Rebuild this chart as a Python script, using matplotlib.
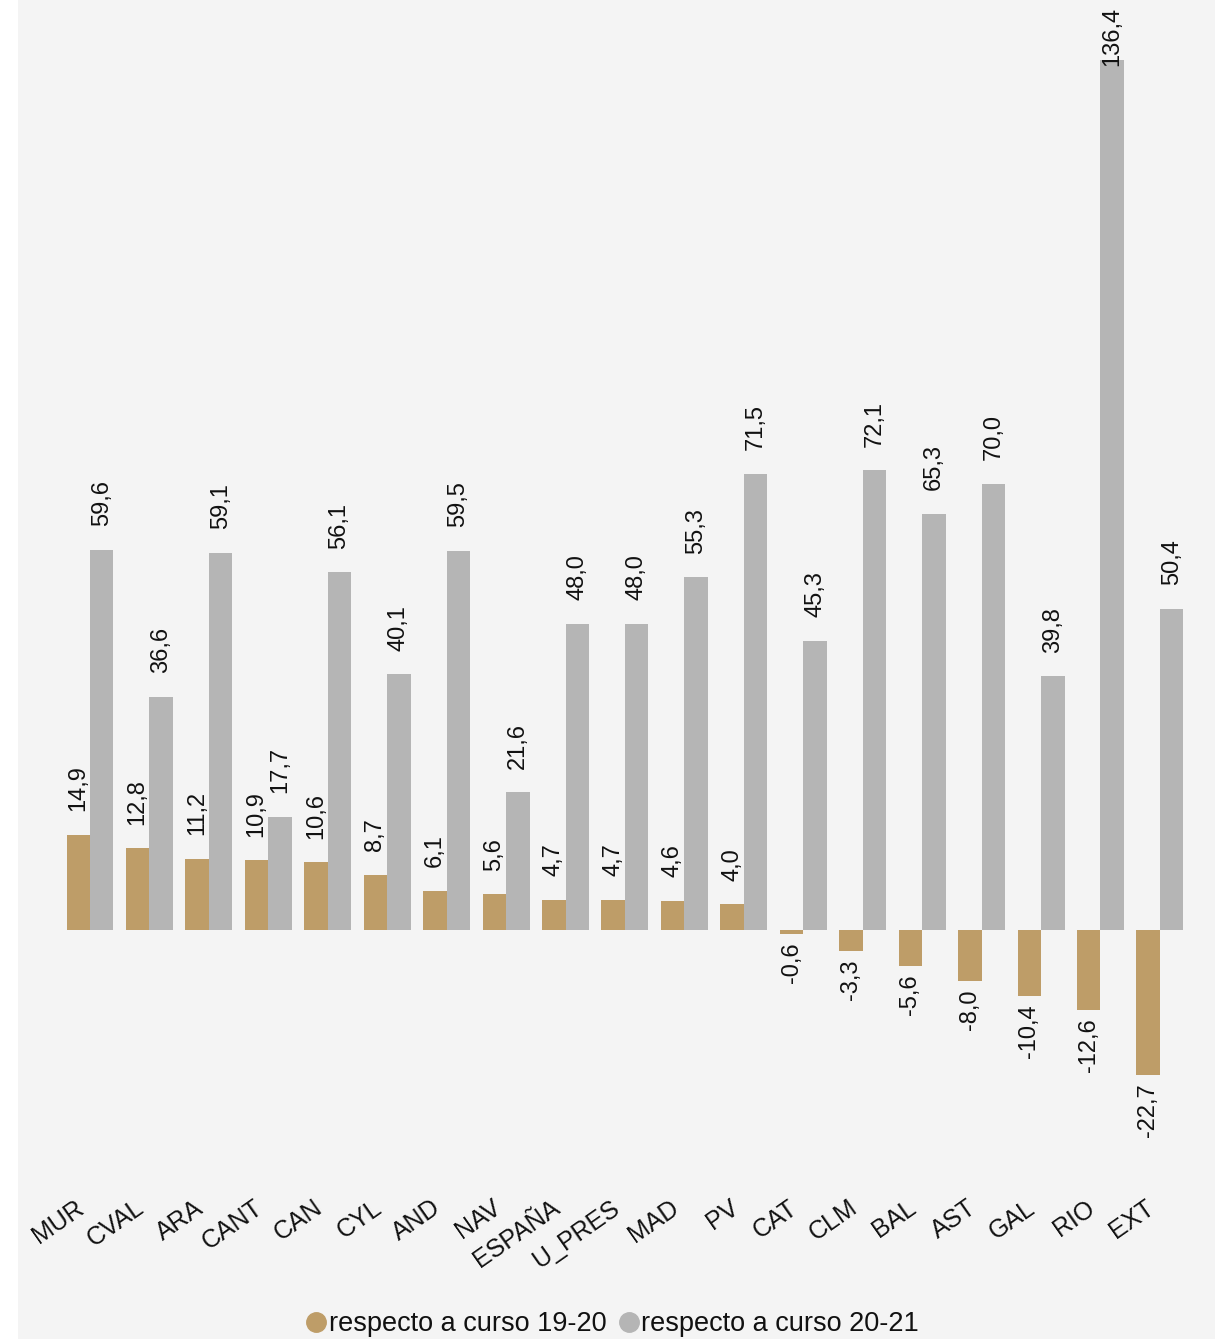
import matplotlib
matplotlib.use("Agg")
import matplotlib.pyplot as plt
from matplotlib.patches import Rectangle
from matplotlib.lines import Line2D
from matplotlib.transforms import ScaledTranslation
import numpy as np

# data
regiones = ["MUR", "CVAL", "ARA", "CANT", "CAN", "CYL", "AND", "NAV", "ESPAÑA", "U_PRES",
            "MAD", "PV", "CAT", "CLM", "BAL", "AST", "GAL", "RIO", "EXT"]
var_19_20 = [14.9, 12.8, 11.2, 10.9, 10.6, 8.7, 6.1, 5.6, 4.7, 4.7,
             4.6, 4.0, -0.6, -3.3, -5.6, -8.0, -10.4, -12.6, -22.7]
var_20_21 = [59.6, 36.6, 59.1, 17.7, 56.1, 40.1, 59.5, 21.6, 48.0, 48.0,
             55.3, 71.5, 45.3, 72.1, 65.3, 70.0, 39.8, 136.4, 50.4]
series_names = ["respecto a curso 19-20", "respecto a curso 20-21"]

gold = "#be9d68"
grey = "#b5b5b5"
bg = "#f4f4f4"
txt = "#111111"

plt.rcParams["font.family"] = ["Liberation Sans", "DejaVu Sans"]

W, H = 1215, 1339
fig = plt.figure(figsize=(W / 100, H / 100), dpi=100)
fig.patch.set_facecolor("white")
fig.patches.append(Rectangle((18 / W, 0), 1 - 18 / W, 1, transform=fig.transFigure,
                             facecolor=bg, edgecolor="none", zorder=-10))

# axes placed in pixels: left 30, right 1215, top 0, bottom 1190
ax = fig.add_axes([30 / W, (H - 1190) / H, 1185 / W, 1190 / H])
ax.patch.set_alpha(0)

x = np.arange(len(regiones))
w = 0.395
ax.bar(x - w / 2, var_19_20, w, color=gold, zorder=2)
ax.bar(x + w / 2, var_20_21, w, color=grey, zorder=2)

ax.set_xlim((30 - 90) / 59.44, (1215 - 90) / 59.44)
ax.set_ylim(-260 / 6.378, 930 / 6.378)

def fmt(v):
    return f"{v:.1f}".replace(".", ",")

ymax = ax.get_ylim()[1]
for xs, vals in [(x - w / 2, var_19_20), (x + w / 2, var_20_21)]:
    for xi, v in zip(xs, vals):
        if v >= 0:
            if v > ymax - 12:
                # label pushed inside the top edge
                ax.annotate(fmt(v), (xi, ymax), xytext=(0, -5), textcoords="offset points",
                            rotation=90, ha="center", va="top", fontsize=17, color=txt)
            else:
                ax.annotate(fmt(v), (xi, v), xytext=(0, 17), textcoords="offset points",
                            rotation=90, ha="center", va="bottom", fontsize=17, color=txt)
        else:
            ax.annotate(fmt(v), (xi, v), xytext=(0, -6), textcoords="offset points",
                        rotation=90, ha="center", va="top", fontsize=17, color=txt)

ax.set_xticks(x)
ax.set_xticklabels(regiones, rotation=35, ha="right", rotation_mode="anchor",
                   fontsize=18, color=txt)
ax.tick_params(axis="x", length=0, pad=4)
off = ScaledTranslation(-15 / 100, 0, fig.dpi_scale_trans)
for lab in ax.get_xticklabels():
    lab.set_transform(lab.get_transform() + off)
ax.set_yticks([])
for s in ax.spines.values():
    s.set_visible(False)

handles = [Line2D([], [], marker="o", linestyle="none", markersize=14, color=gold),
           Line2D([], [], marker="o", linestyle="none", markersize=14, color=grey)]
fig.legend(handles, series_names, loc="center", bbox_to_anchor=(613 / W, 15 / H),
           ncol=2, frameon=False, fontsize=19.5, handlelength=0.7, handletextpad=0.1,
           columnspacing=0.5, labelcolor=txt)

fig.savefig("out.png", dpi=100, facecolor=fig.get_facecolor())
